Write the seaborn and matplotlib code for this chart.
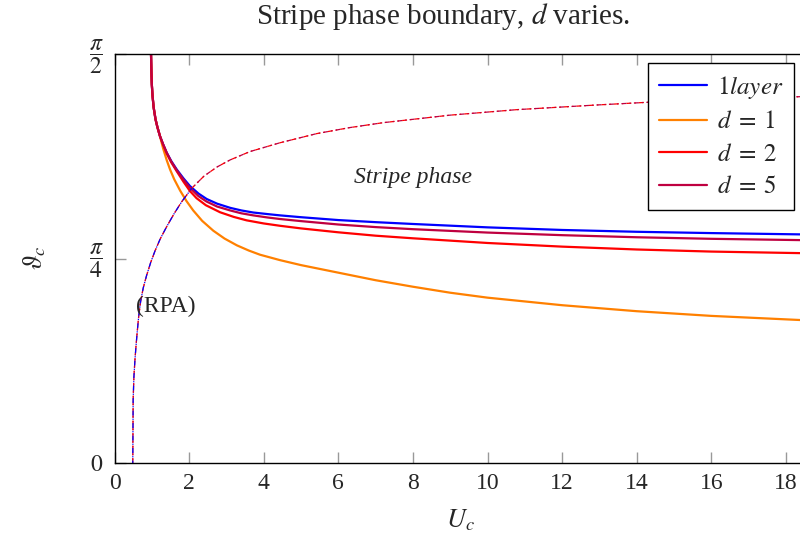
import numpy as np
import pandas as pd
import matplotlib
matplotlib.use("Agg")
import matplotlib.pyplot as plt
import matplotlib.transforms as mtransforms
import seaborn as sns

# Critical angle vs. U_c along the stripe-phase boundary
x_1layer = [0.979, 0.99, 1.00, 1.02, 1.05, 1.10, 1.15, 1.22, 1.30, 1.40, 1.52, 1.67, 1.85,
            2.02, 2.25, 2.47, 2.75, 3.10, 3.40, 3.72, 4.10, 4.44, 5.0, 6.0, 7.0, 8.0,
            10.0, 12.0, 14.0, 16.0, 18.4, 19.6]
y_1layer = [1.5708, 1.50, 1.455, 1.41, 1.365, 1.32, 1.29, 1.255, 1.225, 1.192, 1.160, 1.127, 1.093,
            1.064, 1.035, 1.014, 0.996, 0.980, 0.970, 0.962, 0.956, 0.951, 0.944, 0.933, 0.925, 0.918,
            0.905, 0.895, 0.888, 0.883, 0.878, 0.876]

x_d1 = [0.979, 0.99, 1.00, 1.02, 1.05, 1.10, 1.15, 1.22, 1.26, 1.31, 1.40, 1.49, 1.60, 1.76,
        1.93, 2.11, 2.35, 2.65, 2.95, 3.28, 3.60, 3.90, 4.44, 5.0, 6.0, 7.0, 8.0, 9.0,
        10.0, 12.0, 14.0, 16.0, 18.4, 19.6]
y_d1 = [1.5708, 1.50, 1.455, 1.41, 1.365, 1.32, 1.29, 1.255, 1.232, 1.205, 1.163, 1.127, 1.090, 1.046,
        1.006, 0.970, 0.930, 0.892, 0.862, 0.836, 0.816, 0.800, 0.779, 0.760, 0.731, 0.702, 0.677, 0.654,
        0.635, 0.606, 0.583, 0.565, 0.549, 0.544]

x_d2 = [0.979, 0.99, 1.00, 1.02, 1.05, 1.10, 1.15, 1.22, 1.30, 1.40, 1.52, 1.67, 1.85,
        2.02, 2.20, 2.45, 2.83, 3.20, 3.54, 4.00, 4.44, 5.0, 6.0, 7.0, 8.0,
        10.0, 12.0, 14.0, 16.0, 18.4, 19.6]
y_d2 = [1.5708, 1.50, 1.455, 1.41, 1.365, 1.32, 1.29, 1.255, 1.224, 1.189, 1.155, 1.120, 1.080,
        1.045, 1.017, 0.990, 0.963, 0.945, 0.932, 0.920, 0.911, 0.901, 0.886, 0.873, 0.863,
        0.845, 0.831, 0.820, 0.812, 0.806, 0.804]

x_d5 = [0.979, 0.99, 1.00, 1.02, 1.05, 1.10, 1.15, 1.22, 1.30, 1.40, 1.52, 1.67, 1.85,
        2.02, 2.25, 2.47, 2.75, 3.10, 3.40, 3.72, 4.10, 4.44, 5.0, 6.0, 7.0, 8.0,
        10.0, 12.0, 14.0, 16.0, 18.4, 19.6]
y_d5 = [1.5708, 1.50, 1.455, 1.41, 1.365, 1.32, 1.29, 1.255, 1.225, 1.191, 1.158, 1.124, 1.088,
        1.057, 1.025, 1.004, 0.985, 0.970, 0.959, 0.951, 0.943, 0.937, 0.929, 0.916, 0.906, 0.898,
        0.885, 0.875, 0.867, 0.861, 0.856, 0.854]

# RPA instability line
x_rpa = [0.49, 0.50, 0.52, 0.55, 0.58, 0.61, 0.65, 0.70, 0.77, 0.86, 0.97, 1.09, 1.23, 1.40,
         1.60, 1.80, 2.07, 2.40, 2.75, 3.10, 3.63, 4.44, 5.42, 6.3, 7.2, 9.0, 10.78, 12.93,
         14.25, 16.3, 18.4, 19.6]
y_rpa = [0.0, 0.242, 0.33, 0.40, 0.455, 0.505, 0.565, 0.620, 0.672, 0.720, 0.770, 0.816, 0.862, 0.908,
         0.958, 1.003, 1.055, 1.102, 1.137, 1.164, 1.196, 1.230, 1.265, 1.288, 1.307, 1.336, 1.357, 1.375,
         1.385, 1.397, 1.407, 1.412]
rpa_1layer_end = 2.07

labels = [r"$1layer$", r"$d\;=\;1$", r"$d\;=\;2$", r"$d\;=\;5$"]
colors = ["#0000FF", "#FF8000", "#FF0000", "#BF0040"]
xticks = [0, 2, 4, 6, 8, 10, 12, 14, 16, 18]
yticks = [0, np.pi / 4, np.pi / 2]
yticklabels = [r"$0$", r"$\dfrac{\pi}{4}$", r"$\dfrac{\pi}{2}$"]

sns.set_style("white")
plt.rcParams["font.family"] = ["Liberation Serif", "DejaVu Serif"]
plt.rcParams["mathtext.fontset"] = "stix"

W, H = 800, 543
fig = plt.figure(figsize=(W / 100, H / 100), dpi=100)
px_per_unit = 37.3
x0_px, right_px = 114.5, 840
ax = fig.add_axes([x0_px / W, 80 / H, (right_px - x0_px) / W, 409 / H])

series = [(x_1layer, y_1layer), (x_d1, y_d1), (x_d2, y_d2), (x_d5, y_d5)]
handles = []
for (xs, ys), lab, col in zip(series, labels, colors):
    sns.lineplot(x=xs, y=ys, ax=ax, color=col, lw=1.6, sort=False, estimator=None)
    ln = ax.lines[-1]
    ln.set_solid_joinstyle("round")
    handles.append(ln)

# RPA lines (dash-dotted); the single-layer one stops at the crossing
xr = np.array(x_rpa)
yr = np.array(y_rpa)
mask = xr <= rpa_1layer_end
sns.lineplot(x=xr, y=yr, ax=ax, color=colors[2], lw=0.9, sort=False,
             estimator=None, linestyle=(0, (4, 2.5, 1, 2.5)))
sns.lineplot(x=xr, y=yr, ax=ax, color=colors[3], lw=0.9, sort=False,
             estimator=None, linestyle=(4, (4, 2.5, 1, 2.5)))
sns.lineplot(x=xr[mask], y=yr[mask], ax=ax, color=colors[0], lw=0.9, sort=False,
             estimator=None, linestyle=(2, (4, 2.5, 1, 2.5)))

ax.set_xlim(0, (right_px - x0_px) / px_per_unit)
ax.set_ylim(0, np.pi / 2)
ax.set_xticks(xticks)
ax.set_xticklabels([str(t) for t in xticks])
ax.set_yticks(yticks)
ax.set_yticklabels(yticklabels)
ax.tick_params(direction="in", length=8, width=1, color="#999999", labelsize=17,
               top=True, right=False, bottom=True, left=True)
ax.tick_params(axis="x", pad=7)
ax.tick_params(axis="y", pad=8)
# lift the fraction labels so their bars sit on the tick
lift = mtransforms.ScaledTranslation(0, 4 / 72, fig.dpi_scale_trans)
for lbl in ax.get_yticklabels()[1:]:
    lbl.set_transform(lbl.get_transform() + lift)
for s in ["left", "bottom", "top"]:
    ax.spines[s].set_color("black")
    ax.spines[s].set_linewidth(1.0)
ax.spines["right"].set_visible(False)
ax.set_xlabel("")
ax.set_ylabel("")

ax.text(8.0, 1.098, "Stripe phase", fontsize=17, style="italic", ha="center", va="center")
ax.text(1.38, 0.60, "(RPA)", fontsize=17, ha="center", va="center")

fig.text(443 / W, 1 - 16 / H, r"Stripe phase boundary, $d$ varies.", fontsize=21,
         ha="center", va="center")
fig.text(460 / W, 1 - 520 / H, r"$U_c$", fontsize=19, ha="center", va="center")
fig.text(35 / W, 1 - 258 / H, r"$\vartheta_c$", fontsize=19, ha="center", va="center",
         rotation=90)

leg = fig.legend(handles, labels, loc="upper left",
                 bbox_to_anchor=(648 / W, 1 - 62.7 / H), fontsize=18,
                 frameon=True, fancybox=False, edgecolor="black", framealpha=1,
                 handlelength=1.9, handletextpad=0.4, borderpad=0.45, labelspacing=0.4,
                 borderaxespad=0)
leg.get_frame().set_linewidth(1.0)
for h in leg.legend_handles:
    h.set_linewidth(1.6)

fig.savefig("out.png", dpi=100)
